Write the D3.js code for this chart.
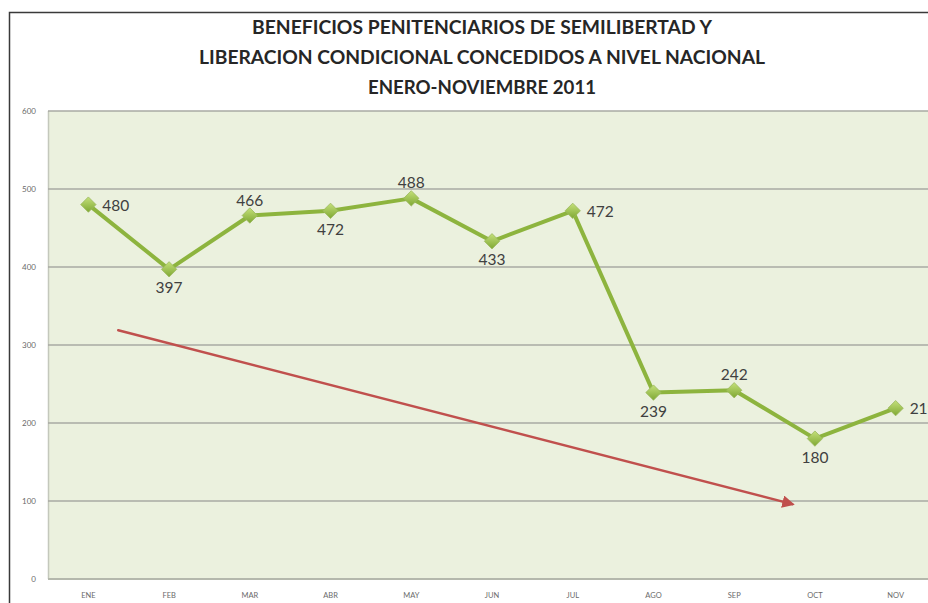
<!DOCTYPE html>
<html lang="es">
<head>
<meta charset="UTF-8">
<title>Beneficios penitenciarios 2011</title>
<style>
  body { margin: 0; background: #fff; }
  svg { display: block; }
</style>
</head>
<body>
<div id="chart"></div>
<script src="https://d3js.org/d3.v7.min.js"></script>
<script>
// months and monthly totals
var months = ["ENE", "FEB", "MAR", "ABR", "MAY", "JUN", "JUL", "AGO", "SEP", "OCT", "NOV"];
var values = [480, 397, 466, 472, 488, 433, 472, 239, 242, 180, 219];
// where each data label sits relative to its point
var labelPos = ["right", "below", "above", "below", "above", "below", "right", "below", "above", "below", "right"];
var yTicks = [0, 100, 200, 300, 400, 500, 600];
var titleLines = [
  "BENEFICIOS PENITENCIARIOS DE SEMILIBERTAD Y",
  "LIBERACION CONDICIONAL CONCEDIDOS A NIVEL NACIONAL",
  "ENERO-NOVIEMBRE 2011"
];
// trend arrow: [month index, value] for start and end
var trendFrom = [0.37, 319];
var trendTo = [8.72, 96];

var W = 928, H = 603;
var margin = { top: 111, right: -8, bottom: 24, left: 48 };

var svg = d3.select("#chart").append("svg")
  .attr("width", W).attr("height", H);

var defs = svg.append("defs");
var grad = defs.append("linearGradient").attr("id", "mk")
  .attr("x1", "0").attr("y1", "0").attr("x2", "0").attr("y2", "1");
grad.append("stop").attr("offset", "0%").attr("stop-color", "#c4e07a");
grad.append("stop").attr("offset", "100%").attr("stop-color", "#7fa833");
defs.append("marker").attr("id", "arrow")
  .attr("viewBox", "0 0 10 10").attr("refX", 8).attr("refY", 5)
  .attr("markerWidth", 5).attr("markerHeight", 5)
  .attr("orient", "auto")
  .append("path").attr("d", "M0,0 L10,5 L0,10 z").attr("fill", "#c0504d");

// outer chart frame
svg.append("rect")
  .attr("x", 9.5).attr("y", 12.5).attr("width", 960).attr("height", 620)
  .attr("fill", "none").attr("stroke", "#3a3a3a").attr("stroke-width", 1.5);

// title
svg.append("g").selectAll("text")
  .data(titleLines).enter().append("text")
  .attr("x", 482)
  .attr("y", function (d, i) { return 34 + i * 30; })
  .attr("text-anchor", "middle")
  .attr("font-family", "Lato, sans-serif")
  .attr("font-weight", "bold")
  .attr("font-size", 18)
  .attr("fill", "#262626")
  .attr("textLength", function (d, i) { return [460, 566, 228][i]; })
  .attr("lengthAdjust", "spacingAndGlyphs")
  .text(function (d) { return d; });

var width = W - margin.left - margin.right,
    height = H - margin.top - margin.bottom;

var g = svg.append("g")
  .attr("transform", "translate(" + margin.left + "," + margin.top + ")");

var x = d3.scaleBand().domain(months).range([0, width]);
var xi = d3.scaleLinear().domain([0, months.length - 1])
  .range([x(months[0]) + x.bandwidth() / 2, x(months[months.length - 1]) + x.bandwidth() / 2]);
var y = d3.scaleLinear().domain([0, 600]).range([height, 0]);

// plot area
g.append("rect")
  .attr("width", width).attr("height", height)
  .attr("fill", "#ebf1de");
g.append("line")
  .attr("x1", 0.5).attr("x2", 0.5).attr("y1", 0).attr("y2", height)
  .attr("stroke", "#c4c8bc").attr("stroke-width", 1.5);

// gridlines
g.append("g").selectAll("line")
  .data(yTicks).enter().append("line")
  .attr("x1", 0).attr("x2", width)
  .attr("y1", function (d) { return y(d); })
  .attr("y2", function (d) { return y(d); })
  .attr("stroke", function (d) { return d === 0 ? "#b4b8ac" : "#a8aaa3"; })
  .attr("stroke-width", function (d) { return d === 0 ? 2 : 1.5; });

// y axis
var yAxis = g.append("g")
  .call(d3.axisLeft(y).tickValues(yTicks).tickSize(0).tickPadding(12));
yAxis.select(".domain").remove();
yAxis.selectAll("text")
  .attr("font-family", "Lato, sans-serif").attr("font-size", 8).attr("fill", "#6a6a6a");

// x axis
var xAxis = g.append("g")
  .attr("transform", "translate(0," + height + ")")
  .call(d3.axisBottom(x).tickSize(0).tickPadding(14));
xAxis.select(".domain").remove();
xAxis.selectAll("text")
  .attr("font-family", "Lato, sans-serif").attr("font-size", 7.5).attr("fill", "#6a6a6a");

// trend arrow
g.append("line")
  .attr("x1", xi(trendFrom[0])).attr("y1", y(trendFrom[1]))
  .attr("x2", xi(trendTo[0])).attr("y2", y(trendTo[1]))
  .attr("stroke", "#c0504d").attr("stroke-width", 2.5)
  .attr("stroke-linecap", "round")
  .attr("marker-end", "url(#arrow)");

// series line
var line = d3.line()
  .x(function (d, i) { return x(months[i]) + x.bandwidth() / 2; })
  .y(function (d) { return y(d); });
g.append("path")
  .datum(values)
  .attr("d", line)
  .attr("fill", "none")
  .attr("stroke", "#8db43e")
  .attr("stroke-width", 4)
  .attr("stroke-linejoin", "round");

// markers
var diamond = d3.symbol().type(d3.symbolDiamond2).size(150);
g.append("g").selectAll("path")
  .data(values).enter().append("path")
  .attr("transform", function (d, i) {
    return "translate(" + (x(months[i]) + x.bandwidth() / 2) + "," + y(d) + ")";
  })
  .attr("d", diamond)
  .attr("fill", "url(#mk)")
  .attr("stroke", "#9ab85e").attr("stroke-width", 0.8);

// data labels
g.append("g").selectAll("text")
  .data(values).enter().append("text")
  .attr("x", function (d, i) {
    var cx = x(months[i]) + x.bandwidth() / 2;
    return labelPos[i] === "right" ? cx + 14 : cx;
  })
  .attr("y", function (d, i) {
    var p = labelPos[i];
    return y(d) + (p === "right" ? 6 : p === "below" ? 24 : -10);
  })
  .attr("text-anchor", function (d, i) { return labelPos[i] === "right" ? "start" : "middle"; })
  .attr("font-family", "Lato, sans-serif")
  .attr("font-size", 15.5)
  .attr("fill", "#404040")
  .text(function (d) { return d; });
</script>
</body>
</html>
